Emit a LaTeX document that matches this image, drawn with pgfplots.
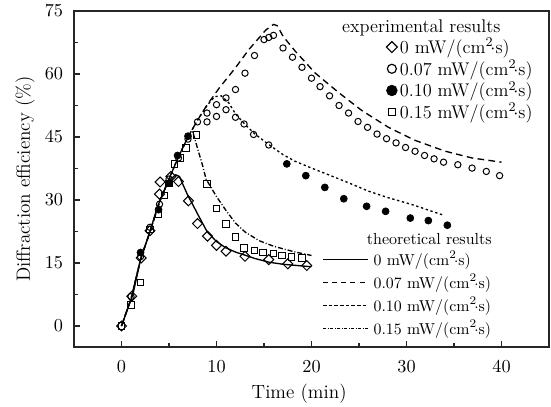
\documentclass[border=0pt]{standalone}
\usepackage{pgfplots}
\pgfplotsset{compat=1.18}
% marks-only legend image: one mark, no padding
\pgfplotsset{
  legmark/.style={legend image code/.code={\draw[##1, only marks] plot coordinates {(0cm,0cm)};}},
  legline/.style={legend image code/.code={\draw[##1] (0pt,0pt) -- (27pt,0pt);}},
}
\begin{document}
\begin{tikzpicture}
\begin{axis}[
  name=ax,
  scale only axis,
  width=285pt, height=201.6pt,
  xmin=-5, xmax=45, ymin=-5, ymax=75,
  xtick={0,10,...,40}, ytick={0,15,...,75},
  minor x tick num=1, minor y tick num=1,
  tick pos=left, tick align=inside,
  major tick length=3.6pt, minor tick length=2.2pt,
  axis line style={line width=0.8pt, black!85},
  every tick/.style={line width=0.7pt, black!85},
  ticklabel style={font=\fontsize{11}{13}\selectfont},
  xticklabel style={yshift=-4.7pt},
  yticklabel style={xshift=-3pt},
  xlabel={Time (min)},
  ylabel={Diffraction efficiency (\%)},
  label style={font=\fontsize{11.5}{13}\selectfont},
  xlabel style={at={(axis description cs:0.474,-0.14)}, anchor=center},
  ylabel style={at={(axis description cs:-0.103,0.5)}, anchor=center},
  legend style={draw=none, fill=none, at={(0.966,0.92)}, anchor=north east,
    font=\fontsize{11}{13}\selectfont, inner sep=0pt, row sep=2.4pt,
    nodes={inner sep=0pt}, column sep=1.5pt},
  legend cell align=left,
]
% theoretical curves
\addplot[forget plot, black, line width=0.8pt] coordinates {
  (0,0) (1.2,7.5) (2,15.8) (3,22.5) (3.8,28.5) (4.9,34.4) (5.7,36) (6.1,35.6)
  (6.5,33.5) (7,31) (7.5,28.9) (8,26.7) (9,22.5) (10,20.1) (11,18.6) (12,17.6)
  (13.1,16.8) (14,16.1) (15.5,15.2) (17,14.7) (18.5,14.4) (20,14.1)
};
\addplot[forget plot, black, line width=0.8pt, dash pattern=on 4pt off 2.6pt] coordinates {
  (0,0) (1,6.5) (2,15.8) (3,22.5) (4,29.5) (5,35) (6,40.3) (7,45) (8,49)
  (9,52.6) (10.3,56.7) (12,61.5) (13.4,65.8) (15.2,70.5) (16,71.8) (16.4,71.5)
  (17,69) (18.3,65.4) (20.4,60.2) (22.9,55.5) (25.3,51.3) (28.1,47.3) (30.9,44.2)
  (34.1,41.6) (36.9,40) (40,39)
};
\addplot[forget plot, black, line width=0.8pt, dash pattern=on 1.4pt off 1.6pt] coordinates {
  (0,0) (1,6.5) (2,15.8) (3,22.5) (4,29.5) (5,35) (6,40.3) (7,45) (8,49)
  (9,52.5) (9.8,54.6) (10.5,54.8) (11.3,53.1) (12,50.5) (13,48) (14,45.8)
  (15.5,43.2) (17,40.8) (18.3,39.2) (20,37.6) (21.8,36) (24,34) (26,32.1)
  (28,30.6) (30.6,28.9) (32.3,27.6) (34,26.3)
};
\addplot[forget plot, black, line width=0.8pt, dash pattern=on 3pt off 1.2pt on 0.6pt off 1.2pt] coordinates {
  (0,0) (1,6.5) (2,15.8) (3,22.5) (4,29.5) (5,35) (6,40.3) (7,45) (7.5,46.3)
  (8,42.3) (8.5,38.5) (8.9,35) (10,30.8) (11,27.5) (12,24.5) (13,22.4)
  (14.5,20.3) (16,19) (17.3,18.2) (18.5,17.5) (20,16.8)
};
% experimental data
% 0.07 mW/(cm^2 s): open circles
\addplot[forget plot, only marks, mark=o, mark size=1.9pt, mark options={line width=0.6pt}] coordinates {
  (1,7) (2,16.5) (3,23.5) (4,29) (5,35) (6,40) (7,44.5) (8,48.6) (9,50.7)
  (10,52.7) (11,54.3) (12,56.3) (13,60.2) (14,64.4) (15,68.2) (15.5,68.7)
  (16,69.2) (17,66.2) (18,64) (19,61.6) (20,59) (20.9,57) (21.9,54.8)
  (22.9,52.5) (23.9,50.7) (24.9,48.7) (25.9,47.3) (26.9,45.7) (27.9,44.6)
  (28.9,43.6) (29.9,42.5) (30.9,41.6) (31.9,40.6) (32.9,39.8) (33.9,39.0)
  (35.4,38.4) (36.9,37.6) (38.4,36.8) (39.8,35.8)
};
% 0.10 mW/(cm^2 s): points near the peak drawn open
\addplot[forget plot, only marks, mark=o, mark size=1.9pt, mark options={line width=0.6pt}] coordinates {
  (9,48.6) (10,49.9) (11,51.5) (12,49.7) (12.9,48.1) (13.9,45.6) (15.5,43.1)
};
\addplot[forget plot, only marks, mark=*, mark size=2.1pt] coordinates {
  (2,17.5) (3.9,27.7) (5,34) (5.9,40.6) (7,45.2) (17.4,38.6) (19.4,35.8)
  (21.4,33.0) (23.4,30.3) (25.8,28.5) (27.8,27.3) (30.4,25.7) (32.3,25.1) (34.3,24.0)
};
% 0.15 mW/(cm^2 s): squares
\addplot[forget plot, only marks, mark=square, mark size=1.9pt, mark options={line width=0.6pt}] coordinates {
  (0,0) (1,5) (2,10.4) (3,23) (3.9,26.5) (4.5,31) (5,34) (5.6,38.6) (6.2,40)
  (6.8,42.4) (7.9,45.5) (9,33.8) (10,28) (11,24.3) (12,21.2) (12.9,18.6)
  (14,18) (14.9,17.5) (16,17.2) (16.9,16.8) (17.9,16.4) (19,16.2)
};
% 0 mW/(cm^2 s): diamonds
\addplot[forget plot, only marks, mark=square, mark size=2.1pt, mark options={rotate=45, line width=0.6pt}] coordinates {
  (0,0) (1.08,7.1) (2.07,16.2) (3,22.7) (4,31.4) (4.06,34.3) (5.2,35.6) (6,34.4)
  (7.05,29.8) (8,24.4) (9.05,21.4) (10,19.2) (11,17.8) (13,16.6) (15.5,15.8)
  (17.5,14.8) (19.5,14.4)
};
\addlegendimage{legmark, only marks, mark=square, mark size=2.3pt, mark options={rotate=45, line width=0.7pt}}
\addlegendentry{0 mW/(cm$^2\!\cdot$s)}
\addlegendimage{legmark, only marks, mark=o, mark size=2.7pt, mark options={line width=0.7pt}}
\addlegendentry{0.07 mW/(cm$^2\!\cdot$s)}
\addlegendimage{legmark, only marks, mark=*, mark size=3.2pt}
\addlegendentry{0.10 mW/(cm$^2\!\cdot$s)}
\addlegendimage{legmark, only marks, mark=square, mark size=2pt, mark options={line width=0.7pt}}
\addlegendentry{0.15 mW/(cm$^2\!\cdot$s)}
\node[anchor=west, inner sep=0pt, font=\fontsize{11}{13}\selectfont] at (rel axis cs:0.564,0.949) {experimental results};
\node[anchor=center, inner sep=0pt, font=\fontsize{9.6}{11}\selectfont] at (rel axis cs:0.748,0.321) {theoretical results};
\end{axis}
\begin{axis}[
  at={(ax.south west)}, anchor=south west,
  scale only axis, width=285pt, height=201.6pt,
  hide axis, xmin=0, xmax=1, ymin=0, ymax=1,
  legend style={draw=none, fill=none, at={(0.522,0.286)}, anchor=north west,
    font=\fontsize{9.5}{11}\selectfont, inner sep=0pt, row sep=4pt,
    nodes={inner sep=0pt}, column sep=3pt},
  legend cell align=left,
]
\addlegendimage{legline, black, line width=0.8pt}
\addlegendentry{0 mW/(cm$^2\!\cdot$s)}
\addlegendimage{legline, black, line width=0.8pt, dash pattern=on 3pt off 2.5pt}
\addlegendentry{0.07 mW/(cm$^2\!\cdot$s)}
\addlegendimage{legline, black, line width=0.8pt, dash pattern=on 2.2pt off 1.2pt}
\addlegendentry{0.10 mW/(cm$^2\!\cdot$s)}
\addlegendimage{legline, black, line width=0.8pt, dash pattern=on 2pt off 0.8pt on 0.6pt off 0.8pt}
\addlegendentry{0.15 mW/(cm$^2\!\cdot$s)}
\end{axis}
\pgfresetboundingbox
\path[use as bounding box] ([xshift=-44.4pt,yshift=-35.4pt]ax.south west) rectangle ([xshift=1.2pt,yshift=6.6pt]ax.north east);
\end{tikzpicture}
\end{document}
